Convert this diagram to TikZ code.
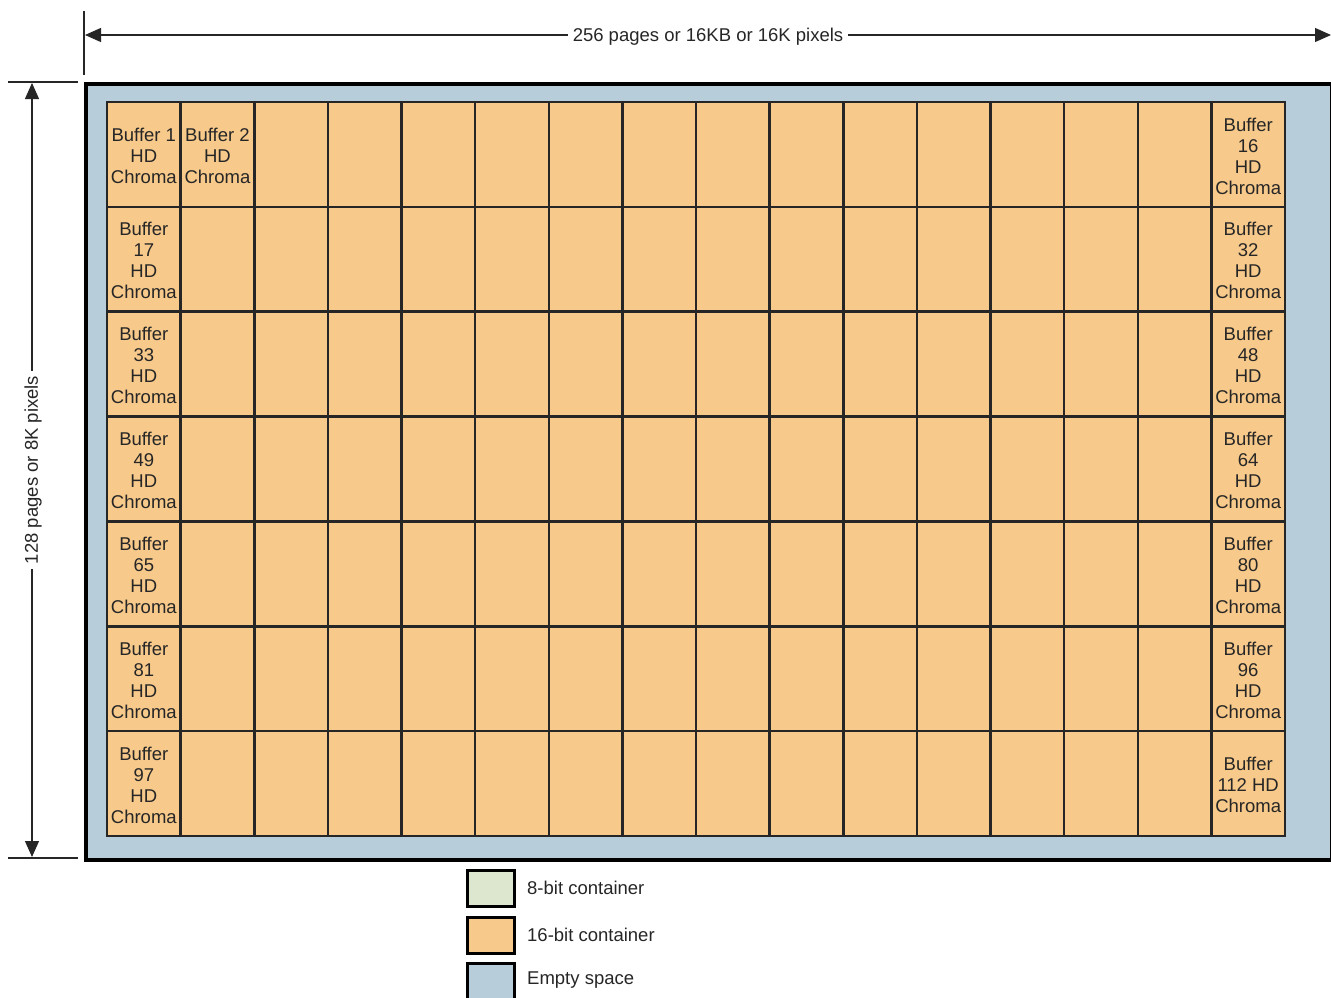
\documentclass[tikz,border=0pt]{standalone}
\usepackage{fontspec}
\setmainfont{Liberation Sans}
\usetikzlibrary{arrows.meta}
\definecolor{orng}{HTML}{F7C98B}
\definecolor{bgblue}{HTML}{B7CDD9}
\definecolor{lgreen}{HTML}{DDE7D0}
\definecolor{ink}{HTML}{262626}
\begin{document}
\begin{tikzpicture}[x=1pt,y=-1pt,
  font=\fontsize{18.5}{21}\selectfont,
  cell/.style={draw=ink, line width=2.5pt, fill=orng, minimum width=73.625pt,
    minimum height=104.857pt, inner sep=0pt, align=center, text=ink, anchor=center},
  btext/.style={label={[text=ink, align=center, inner sep=0pt, yshift=-1.5pt]center:{#1}}},
  frame/.style={draw=black, line width=4pt, fill=bgblue, minimum width=1246pt,
    minimum height=776pt, inner sep=0pt, anchor=north west},
  legbox/.style={draw=black, line width=2.5pt, minimum width=47pt, minimum height=36pt,
    inner sep=0pt, anchor=north west},
  legtext/.style={anchor=west, text=ink, inner sep=0pt},
  dimline/.style={draw=ink, line width=1.2pt},
  dimarrow/.style={draw=ink, line width=1.2pt, {Triangle[length=16pt,width=14pt]}-{Triangle[length=16pt,width=14pt]}},
  dimlabel/.style={fill=white, text=ink, inner xsep=5pt, inner ysep=2pt}
]
\useasboundingbox (0,0) rectangle (1331,998);

% frame (empty space)
\node[frame] (frame) at (84,82) {};

% grid cells
\def\cx#1{107+36.8125+#1*73.625}
\def\cy#1{102+52.4285+#1*104.857}
\node[cell, btext={Buffer 1\\HD\\Chroma}] (c0-0) at ({\cx{0}},{\cy{0}}) {};
\node[cell, btext={Buffer 2\\HD\\Chroma}] (c0-1) at ({\cx{1}},{\cy{0}}) {};
\foreach \r in {1,...,6}{
  \pgfmathtruncatemacro\na{16*\r+1}
  \node[cell, btext={Buffer\\\na\\HD\\Chroma}] (c\r-0) at ({\cx{0}},{\cy{\r}}) {};
  \node[cell] (c\r-1) at ({\cx{1}},{\cy{\r}}) {};
}
\foreach \r in {0,...,5}{
  \pgfmathtruncatemacro\nb{16*\r+16}
  \node[cell, btext={Buffer\\\nb\\HD\\Chroma}] (c\r-15) at ({\cx{15}},{\cy{\r}}) {};
}
\node[cell, btext={Buffer\\112 HD\\Chroma}] (c6-15) at ({\cx{15}},{\cy{6}}) {};
\foreach \r in {0,...,6}{
  \foreach \c in {2,...,14}{
    \node[cell] (c\r-\c) at ({\cx{\c}},{\cy{\r}}) {};
  }
}

% horizontal dimension
\coordinate (ht1) at (84,11);
\coordinate (ht2) at (84,75);
\draw[dimline] (ht1) -- (ht2);
\coordinate (ha) at (85,35);
\coordinate (hb) at (1331,35);
\draw[dimarrow] (ha) -- node[dimlabel, yshift=-1.5pt] (hlab) {256 pages or 16KB or 16K pixels} (hb);

% vertical dimension
\coordinate (vt1a) at (8,82);
\coordinate (vt1b) at (78,82);
\coordinate (vt2a) at (8,858);
\coordinate (vt2b) at (78,858);
\draw[dimline] (vt1a) -- (vt1b);
\draw[dimline] (vt2a) -- (vt2b);
\coordinate (va) at (32,83);
\coordinate (vb) at (32,857);
\draw[dimarrow] (va) -- node[dimlabel, rotate=90, yshift=-1pt] (vlab) {128 pages or 8K pixels} (vb);

% legend
\node[legbox, fill=lgreen] (lg1) at (466,869) {};
\node[legbox, fill=orng] (lg2) at (466,916) {};
\node[legbox, fill=bgblue] (lg3) at (466,962) {};
\node[legtext, yshift=-1pt] (lt1) at (527,887) {8-bit container};
\node[legtext, yshift=-1pt] (lt2) at (527,934) {16-bit container};
\node[legtext, yshift=-1pt] (lt3) at (527,979) {Empty space};
\end{tikzpicture}
\end{document}
